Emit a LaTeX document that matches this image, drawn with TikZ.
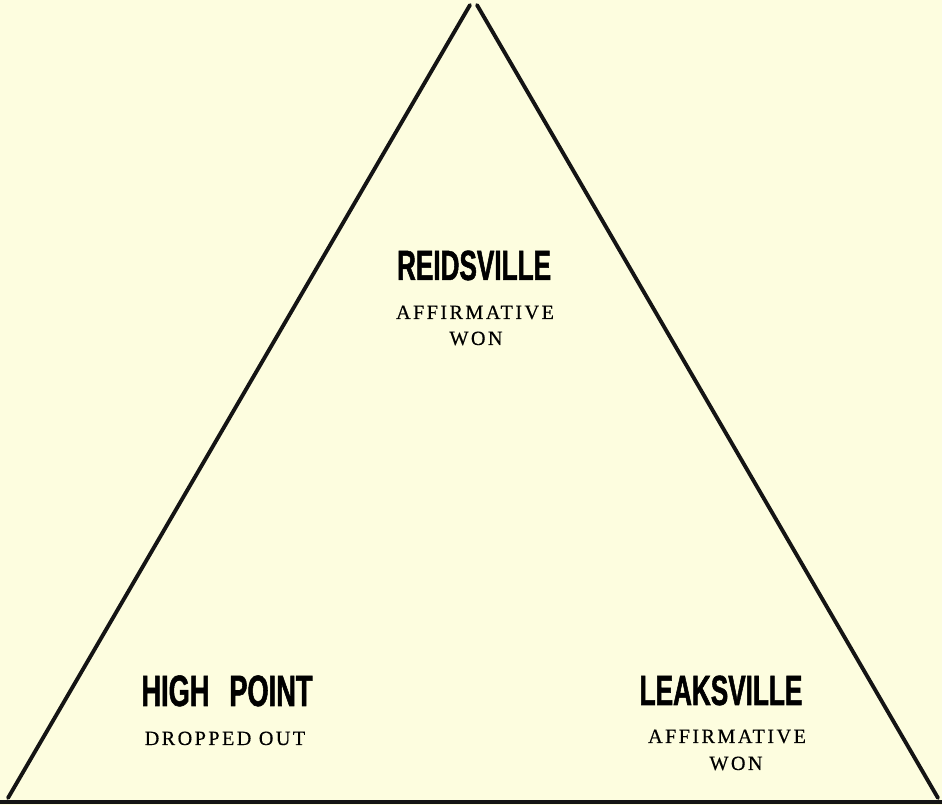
\documentclass[tikz,border=0pt]{standalone}
\usepackage{fontspec}
\setmainfont{Liberation Serif}
\newfontfamily\gothicfont[FakeStretch=0.62,FakeBold=1.2]{Liberation Sans}
\newfontfamily\plainfont[LetterSpace=12,FakeBold=0.4]{Liberation Serif}
\usetikzlibrary{calc,positioning}
\definecolor{paper}{RGB}{253,253,223}
\tikzset{
  town/.style={font=\gothicfont\bfseries\fontsize{24}{24}\selectfont, inner sep=0pt, anchor=base},
  result/.style={font=\plainfont\fontsize{11.5}{12}\selectfont, inner sep=0pt, anchor=base},
  side/.style={line width=2.2pt, draw=black!92, line cap=round}
}

\begin{document}
\begin{tikzpicture}

\useasboundingbox (0,0) rectangle (18.84,16.10);
\filldraw [draw=none,fill=paper] (0,0) rectangle (18.84,16.10);

\coordinate (topL) at (9.40,16.00);
\coordinate (topR) at (9.54,16.00);
\coordinate (baseL) at (0.16,0.14);
\coordinate (baseR) at (18.76,0.14);
\coordinate (floorL) at (0,0.06);
\coordinate (floorR) at (18.84,0.06);

\draw [side] (topL) -- (baseL);
\draw [side] (topR) -- (baseR);
\draw [side, line width=2pt, line cap=butt] (floorL) -- (floorR);

% Reidsville
\node [town] (reids) at (9.48,10.50) {REIDSVILLE};
\node [result] (reidsA) at (9.50,9.72) {AFFIRMATIVE};
\node [result] (reidsW) at (9.52,9.20) {WON};

% High Point
\node [town, font=\gothicfont\bfseries\fontsize{25}{25}\selectfont] (high) at (4.54,1.98) {HIGH\hspace{0.45em}POINT};
\node [result] (highD) at (4.50,1.20) {DROPPED OUT};

% Leaksville
\node [town] (leaks) at (14.42,2.00) {LEAKSVILLE};
\node [result] (leaksA) at (14.54,1.24) {AFFIRMATIVE};
\node [result] (leaksW) at (14.72,0.70) {WON};

\end{tikzpicture}
\end{document}
